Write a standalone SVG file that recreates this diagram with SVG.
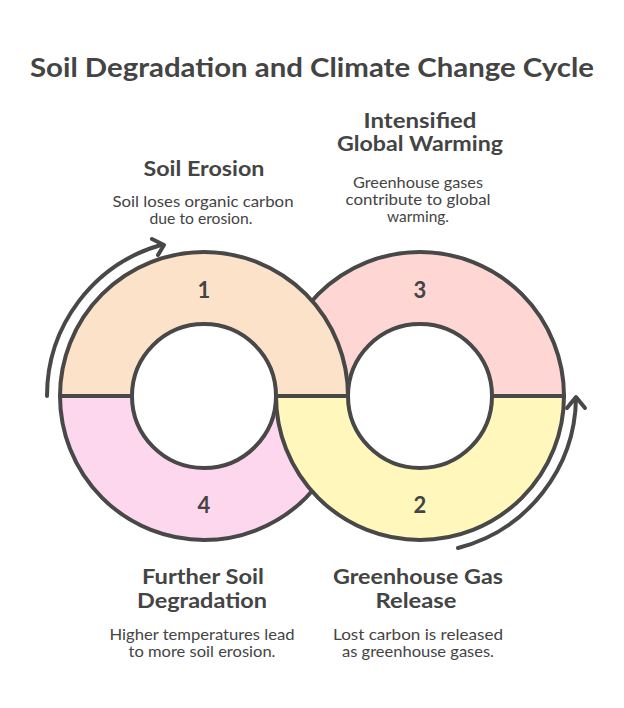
<svg xmlns="http://www.w3.org/2000/svg" width="624" height="708" viewBox="0 0 624 708">
<style>
.seg{stroke:#484848;stroke-width:4;stroke-linejoin:round}
.arc{fill:none;stroke:#484848;stroke-width:4;stroke-linecap:round;stroke-linejoin:round}
text{font-family:"Lato","Liberation Sans",sans-serif;fill:#444;text-anchor:middle}
.title{font-size:26px;font-weight:700}
.head{font-size:20px;font-weight:700}
.desc{font-size:15px}
.num{font-size:22px;font-weight:700}
</style>
<rect width="624" height="708" fill="#fff"/>
<text class="title" x="312" y="77" textLength="564" lengthAdjust="spacingAndGlyphs">Soil Degradation and Climate Change Cycle</text>
<g id="node3">
<path class="seg" fill="#fed6d4" d="M276,396 A144,144 0 0 1 564,396 L492,396 A72,72 0 0 0 348,396 Z"/>
<text class="num" x="420" y="298">3</text>
</g>
<g id="node4">
<path class="seg" fill="#fdd7ee" d="M60,396 A144,144 0 0 0 348,396 L276,396 A72,72 0 0 1 132,396 Z"/>
<text class="num" x="204" y="513">4</text>
</g>
<g id="node1">
<path class="seg" fill="#fde2ca" d="M60,396 A144,144 0 0 1 348,396 L276,396 A72,72 0 0 0 132,396 Z"/>
<text class="num" x="204" y="298">1</text>
</g>
<g id="node2">
<path class="seg" fill="#fff7bb" d="M276,396 A144,144 0 0 0 564,396 L492,396 A72,72 0 0 1 348,396 Z"/>
<text class="num" x="420" y="513">2</text>
</g>
<g id="connectors">
<path class="arc" d="M47,396 A157,157 0 0 1 161,245"/>
<polyline class="arc" points="152,239 164,245 158,255"/>
<path class="arc" d="M458,548 A157,157 0 0 0 576,398"/>
<polyline class="arc" points="567,408 576,397 585,408"/>
</g>
<g id="label1">
<text class="head" x="204" y="176" textLength="121" lengthAdjust="spacingAndGlyphs">Soil Erosion</text>
<text class="desc" x="203" y="207" textLength="181" lengthAdjust="spacingAndGlyphs">Soil loses organic carbon</text>
<text class="desc" x="201" y="224" textLength="103" lengthAdjust="spacingAndGlyphs">due to erosion.</text>
</g>
<g id="label3">
<text class="head" x="420" y="128" textLength="113" lengthAdjust="spacingAndGlyphs">Intensified</text>
<text class="head" x="420" y="151" textLength="166" lengthAdjust="spacingAndGlyphs">Global Warming</text>
<text class="desc" x="418" y="188" textLength="130" lengthAdjust="spacingAndGlyphs">Greenhouse gases</text>
<text class="desc" x="418" y="205" textLength="145" lengthAdjust="spacingAndGlyphs">contribute to global</text>
<text class="desc" x="418" y="222" textLength="62" lengthAdjust="spacingAndGlyphs">warming.</text>
</g>
<g id="label4">
<text class="head" x="203" y="584" textLength="122" lengthAdjust="spacingAndGlyphs">Further Soil</text>
<text class="head" x="202" y="608" textLength="130" lengthAdjust="spacingAndGlyphs">Degradation</text>
<text class="desc" x="202" y="640" textLength="185" lengthAdjust="spacingAndGlyphs">Higher temperatures lead</text>
<text class="desc" x="202" y="657" textLength="147" lengthAdjust="spacingAndGlyphs">to more soil erosion.</text>
</g>
<g id="label2">
<text class="head" x="418" y="584" textLength="170" lengthAdjust="spacingAndGlyphs">Greenhouse Gas</text>
<text class="head" x="416" y="608" textLength="81" lengthAdjust="spacingAndGlyphs">Release</text>
<text class="desc" x="418" y="640" textLength="170" lengthAdjust="spacingAndGlyphs">Lost carbon is released</text>
<text class="desc" x="418" y="657" textLength="152" lengthAdjust="spacingAndGlyphs">as greenhouse gases.</text>
</g>
</svg>
